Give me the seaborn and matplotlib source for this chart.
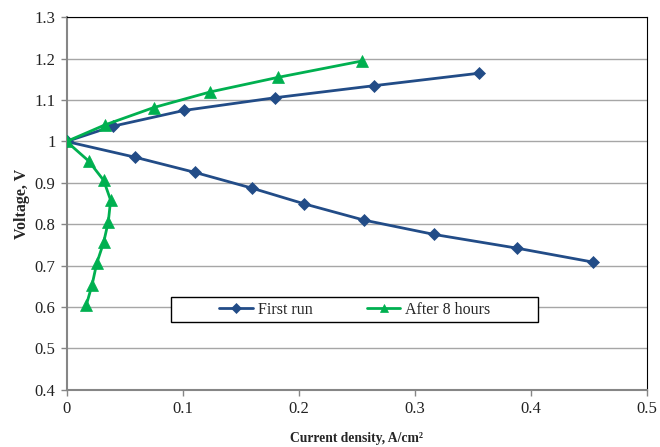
import matplotlib
matplotlib.use("Agg")
import matplotlib.pyplot as plt
from matplotlib.patches import Rectangle
import pandas as pd
import seaborn as sns

# Polarization data: current density (A/cm2) and voltage (V)
first_run_x = [0.355, 0.265, 0.180, 0.101, 0.040, 0.0, 0.059, 0.111, 0.160, 0.205, 0.256, 0.317, 0.388, 0.454]
first_run_y = [1.165, 1.135, 1.106, 1.075, 1.037, 1.0, 0.962, 0.925, 0.887, 0.849, 0.810, 0.775, 0.742, 0.708]

after8_x = [0.255, 0.182, 0.124, 0.075, 0.033, 0.0, 0.019, 0.032, 0.038, 0.036, 0.032, 0.026, 0.022, 0.017]
after8_y = [1.195, 1.155, 1.120, 1.082, 1.040, 1.0, 0.953, 0.906, 0.858, 0.806, 0.756, 0.705, 0.653, 0.604]

series_names = ["First run", "After 8 hours"]
x_ticks = [0, 0.1, 0.2, 0.3, 0.4, 0.5]
y_ticks = [0.4, 0.5, 0.6, 0.7, 0.8, 0.9, 1.0, 1.1, 1.2, 1.3]
x_tick_labels = ["0", "0.1", "0.2", "0.3", "0.4", "0.5"]
y_tick_labels = ["0.4", "0.5", "0.6", "0.7", "0.8", "0.9", "1", "1.1", "1.2", "1.3"]

sns.set_style("white")
plt.rcParams["font.family"] = ["Liberation Serif", "DejaVu Serif"]

df1 = pd.DataFrame({"x": first_run_x, "y": first_run_y})
df2 = pd.DataFrame({"x": after8_x, "y": after8_y})

blue = "#224C87"
green = "#00B050"

fig = plt.figure(figsize=(6.6, 4.47), dpi=100)
ax = fig.add_axes([0.1008, 0.1286, 0.8792, 0.8323])

sns.lineplot(data=df1, x="x", y="y", sort=False, estimator=None, ax=ax,
             color=blue, lw=2.0, marker="D", markersize=6.5,
             markeredgecolor=blue, markeredgewidth=0.5, label=series_names[0], zorder=3)
sns.lineplot(data=df2, x="x", y="y", sort=False, estimator=None, ax=ax,
             color=green, lw=2.0, marker="^", markersize=8,
             markeredgecolor=green, markeredgewidth=0.5, label=series_names[1], zorder=4)

ax.set_xlim(0, 0.5)
ax.set_ylim(0.4, 1.3)
ax.set_xticks(x_ticks)
ax.set_xticklabels(x_tick_labels)
ax.set_yticks(y_ticks)
ax.set_yticklabels(y_tick_labels)

ax.yaxis.grid(True, color="#A6A6A6", lw=1.0)
ax.xaxis.grid(False)
ax.set_axisbelow(True)

for side in ("left", "bottom"):
    ax.spines[side].set_color("#868686")
    ax.spines[side].set_linewidth(1.5)
for side in ("top", "right"):
    ax.spines[side].set_color("black")
    ax.spines[side].set_linewidth(0.8)

ax.tick_params(axis="both", which="major", direction="out", length=4, width=1.0,
               color="#868686", labelsize=12, labelcolor="#222222", pad=4,
               bottom=True, left=True)

ax.set_xlabel("Current density, A/cm\u00b2", fontsize=9.8, fontweight="bold", labelpad=11)
ax.set_ylabel("Voltage, V", fontsize=11.5, fontweight="bold", labelpad=3)

# Legend box and entries
box = Rectangle((0.180, 0.181), 0.632, 0.067, transform=ax.transAxes,
                facecolor="white", edgecolor="black", lw=1.0, zorder=5)
ax.add_patch(box)
leg = ax.legend(loc="center", bbox_to_anchor=(0.497, 0.2145), ncol=2, frameon=False,
                fontsize=11.5, handlelength=2.1, handletextpad=0.3, columnspacing=3.4)
leg.set_zorder(6)
for h in leg.legend_handles:
    h.set_markersize(5.5)

fig.savefig("out.png", dpi=100)
